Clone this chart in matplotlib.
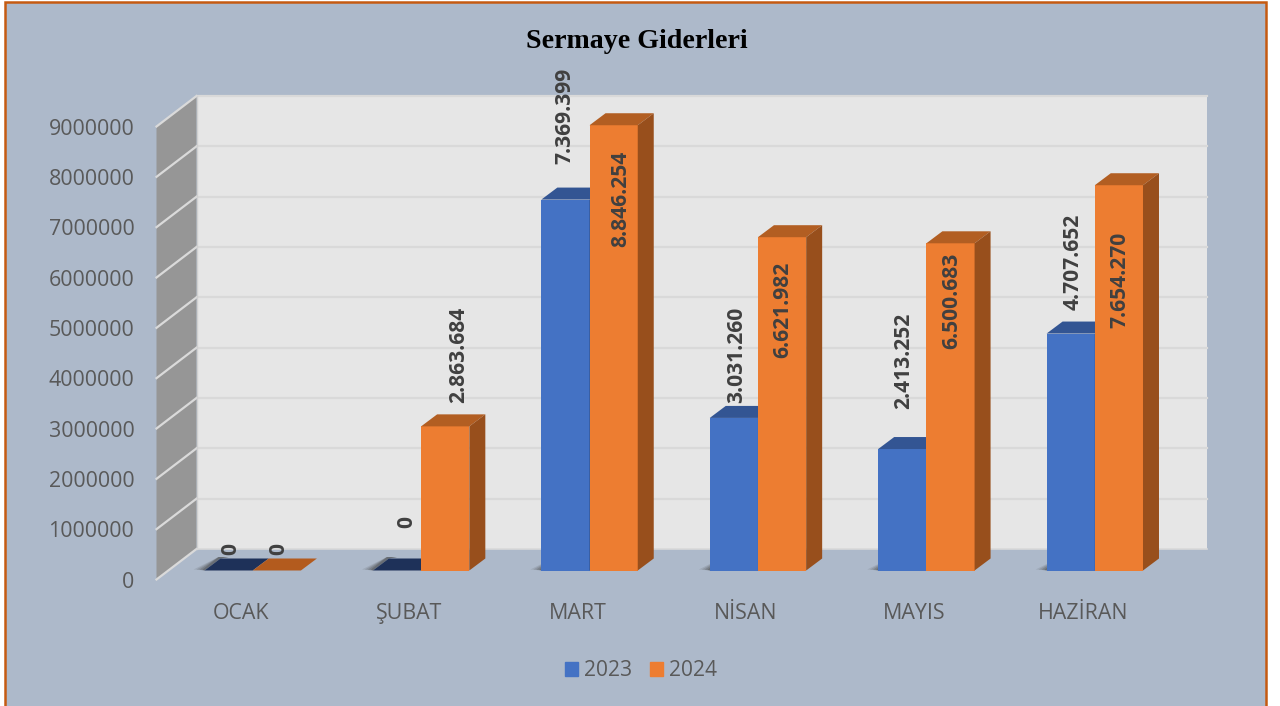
import matplotlib
matplotlib.use("Agg")
import matplotlib.pyplot as plt
from matplotlib.patches import Polygon, Rectangle, Patch

plt.rcParams['font.family'] = ['Open Sans', 'DejaVu Sans']

# ---- data ----
months = ["OCAK", "ŞUBAT", "MART", "NİSAN", "MAYIS", "HAZİRAN"]
values_2023 = [0, 0, 7369399, 3031260, 2413252, 4707652]
values_2024 = [0, 2863684, 8846254, 6621982, 6500683, 7654270]
labels_2023 = ["0", "0", "7.369.399", "3.031.260", "2.413.252", "4.707.652"]
labels_2024 = ["0", "2.863.684", "8.846.254", "6.621.982", "6.500.683", "7.654.270"]
y_ticks = [0, 1000000, 2000000, 3000000, 4000000, 5000000, 6000000, 7000000, 8000000, 9000000]
title = "Sermaye Giderleri"
series_names = ["2023", "2024"]

# ---- label nudges in pixels relative to the bar's top-centre ----
nudge_2023 = [(2, 21.5), (10, 48.5), (-1, 84), (3, 63), (1, 88.5), (2, 72)]
nudge_2024 = [(2, 21.5), (13, 71), (7, -74), (1, -73), (1, -58), (1, -94.5)]

# ---- style ----
W, H = 1280, 706
BG, BORDER = "#ADB9CA", "#C55A11"
WALL, SIDE_WALL, GRID = "#E6E6E6", "#969696", "#D9D9D9"
BLUE = ("#4472C4", "#335593", "#2C4A80")
ORANGE = ("#ED7D31", "#B25E22", "#984F1C")
ZERO_TOP = {"2023": "#1E3159", "2024": "#B35B1E"}
TEXT, LABEL = "#595959", "#404040"
FS = 15.4

# axes pixel frame (front plane)
L, R, Y0, Y9 = 156.5, 1167.0, 579.5, 126.5
# depth offsets in pixels
WALL_DX, WALL_DY = 40.0, 30.5
BAR_DX, BAR_DY = 12.0, 9.0
TOP_DX, TOP_DY = 16.0, 12.0
BAR_W = 48.2

fig = plt.figure(figsize=(W / 100, H / 100), dpi=100, facecolor="white")
fig.add_artist(Rectangle((5 / W, -0.01), (1266 - 5) / W, (H - 2.5) / H + 0.01,
                         transform=fig.transFigure, facecolor=BG,
                         edgecolor=BORDER, linewidth=1.8, zorder=-5))
ax = fig.add_axes([L / W, 1 - Y0 / H, (R - L) / W, (Y0 - Y9) / H], zorder=1)
ax.set_xlim(0, len(months))
ax.set_ylim(0, y_ticks[-1])
ax.patch.set_visible(False)
for s in ax.spines.values():
    s.set_visible(False)

px = len(months) / (R - L)            # data units per pixel, x
py = y_ticks[-1] / (Y0 - Y9)          # data units per pixel, y


def poly(points, color, z, alpha=1.0, lw=0):
    ax.add_patch(Polygon(points, closed=True, facecolor=color, edgecolor=color,
                         linewidth=lw, alpha=alpha, zorder=z, clip_on=False))


# walls
wx, wy = WALL_DX * px, WALL_DY * py
xmax, ymax = len(months), y_ticks[-1]
poly([(wx, wy), (xmax + wx, wy), (xmax + wx, ymax + wy), (wx, ymax + wy)], WALL, 1)
poly([(0, 0), (wx, wy), (wx, ymax + wy), (0, ymax)], SIDE_WALL, 1)
for t in y_ticks:
    if t > 0:
        ax.plot([wx, xmax + wx], [t + wy, t + wy], color=GRID, lw=1.6, zorder=2, clip_on=False)
    ax.plot([0, wx], [t, t + wy], color="#DADADA", lw=1.6, zorder=2, clip_on=False)
ax.plot([wx, wx], [wy, ymax + wy], color="#D0D0D0", lw=1.0, zorder=2, clip_on=False)
ax.plot([wx, xmax + wx], [wy, wy], color=GRID, lw=1.2, zorder=2, clip_on=False)

# bars with fake depth
bw = BAR_W * px
bx, by = BAR_DX * px, BAR_DY * py
tx, ty = TOP_DX * px, TOP_DY * py


def draw_bar(x_left, value, cols, z, name, shadow=False):
    if shadow:
        for k, a in zip((11, 8, 5, 2), (0.12, 0.16, 0.22, 0.28)):
            poly([(x_left - k * px, by + 1 * py), (x_left, by),
                  (x_left + tx, by + ty), (x_left + tx + 8 * px, by + ty + 1.5 * py),
                  (x_left + tx - 2 * px, by + ty + 1.5 * py)],
                 "#3A3A3A", 3, alpha=a)
    ax.bar(x_left, value, width=bw, bottom=by, align="edge", color=cols[0],
           linewidth=0, zorder=z, clip_on=False)
    top = value + by
    top_col = cols[1] if value > 0 else ZERO_TOP[name]
    poly([(x_left, top), (x_left + bw, top), (x_left + bw + tx, top + ty), (x_left + tx, top + ty)],
         top_col, z)
    if value > 0:
        poly([(x_left + bw, by), (x_left + bw + tx, by + ty),
              (x_left + bw + tx, top + ty), (x_left + bw, top)], cols[2], z)


for i in range(len(months)):
    centre = i + 0.5 + bx
    draw_bar(centre - bw, values_2023[i], BLUE, 4, "2023", shadow=True)
    draw_bar(centre, values_2024[i], ORANGE, 5, "2024")
    for vals, labs, nudges, xc in ((values_2023, labels_2023, nudge_2023, centre - bw / 2),
                                   (values_2024, labels_2024, nudge_2024, centre + bw / 2)):
        dx, dy = nudges[i]
        ax.annotate(labs[i], xy=(xc, vals[i] + by), xytext=(dx * 0.72, dy * 0.72),
                    textcoords="offset points", rotation=90, ha="center", va="center",
                    fontsize=15.1, fontweight="bold", color=LABEL, zorder=8,
                    annotation_clip=False)

ax.set_yticks(y_ticks)
ax.set_yticklabels([str(t) for t in y_ticks])
ax.set_xticks([i + 0.5 for i in range(len(months))])
ax.set_xticklabels(months)
ax.tick_params(axis="y", length=0, pad=16, labelsize=FS, labelcolor=TEXT)
ax.tick_params(axis="x", length=0, pad=17, labelsize=FS, labelcolor=TEXT)

fig.text(636.5 / W, 1 - 41 / H, title, ha="center", va="center", color="black",
         fontsize=20.2, fontweight="bold", family="Liberation Serif")

fig.legend(handles=[Patch(color=BLUE[0], label=series_names[0]),
                    Patch(color=ORANGE[0], label=series_names[1])],
           loc="center", bbox_to_anchor=(641 / W, 1 - 671 / H), ncol=2, frameon=False,
           fontsize=15.1, labelcolor=TEXT, handlelength=0.62, handleheight=0.62,
           handletextpad=0.28, columnspacing=0.85, borderpad=0)

fig.savefig("out.png", dpi=100, facecolor="white")
